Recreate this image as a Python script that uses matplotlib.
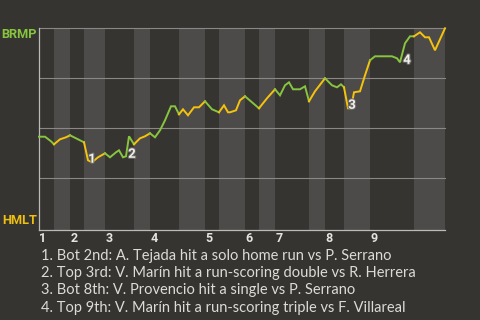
import matplotlib.pyplot as plt
import matplotlib.patheffects as pe

plt.rcParams['font.family'] = ['Lato', 'DejaVu Sans']

bg = '#363430'
band = '#4d4b49'
green = '#88c53f'
yellow = '#f6c30c'
txt = '#dddbd7'

# game progress (plays along the x axis) and BRMP win probability
prog = [0, 6, 12, 15, 21, 27, 31, 37, 45, 49, 53, 59, 66,
        71, 77, 80, 84, 87, 90, 95, 101, 106, 111,
        116, 121, 126, 132, 136, 140, 144, 149, 155, 160, 166,
        173, 180, 185, 189, 191, 197, 201, 206, 213, 220, 228, 236,
        241, 246, 250, 254, 261, 266, 270, 276, 286,
        293, 298, 302, 305, 309, 312, 315, 321, 326, 331,
        336, 353, 358, 361, 366, 371, 375, 381, 386, 390, 396, 406]
winprob = [0.458, 0.458, 0.435, 0.42, 0.445, 0.455, 0.465, 0.45, 0.43, 0.34, 0.33, 0.355, 0.375,
           0.355, 0.38, 0.39, 0.355, 0.36, 0.46, 0.42, 0.45, 0.46, 0.475,
           0.455, 0.49, 0.54, 0.61, 0.61, 0.57, 0.595, 0.565, 0.605, 0.605, 0.635,
           0.595, 0.58, 0.615, 0.58, 0.58, 0.59, 0.64, 0.66, 0.63, 0.60, 0.65, 0.695,
           0.665, 0.715, 0.73, 0.695, 0.695, 0.71, 0.635, 0.685, 0.75,
           0.715, 0.705, 0.72, 0.705, 0.60, 0.60, 0.68, 0.685, 0.765, 0.84,
           0.86, 0.86, 0.85, 0.83, 0.925, 0.96, 0.96, 0.98, 0.955, 0.955, 0.89, 1.0]

# start of each half inning
halves = [0, 15, 31, 45, 66, 95, 111, 140, 166, 180, 206, 220, 236, 270, 286, 305, 331, 375, 406]
innings = ['1', '2', '3', '4', '5', '6', '7', '8', '9']

# key plays
key_x = [53, 93, 313, 368]
key_y = [0.345, 0.37, 0.615, 0.84]
key_text = [
    '1. Bot 2nd: A. Tejada hit a solo home run vs P. Serrano',
    '2. Top 3rd: V. Marín hit a run-scoring double vs R. Herrera',
    '3. Bot 8th: V. Provencio hit a single vs P. Serrano',
    '4. Top 9th: V. Marín hit a run-scoring triple vs F. Villareal',
]

bold = ['Roboto', 'DejaVu Sans']

fig = plt.figure(figsize=(4.8, 3.2), dpi=100, facecolor=bg)
ax = fig.add_axes([39/480, 1 - 230.3/320, 406/480, 202/320])
ax.set_facecolor(bg)
ax.set_xlim(0, 406)
ax.set_ylim(-0.01, 1.0)

for i in range(len(halves) - 1):
    if i % 2 == 1:
        ax.axvspan(halves[i], halves[i+1], color=band, lw=0, zorder=0)

for g in [0.25, 0.5, 0.75, 1.0]:
    ax.axhline(g, color='#8a8885', lw=0.8, zorder=1, clip_on=False)

for i in range(len(halves) - 1):
    a, b = halves[i], halves[i+1]
    xs = [x for x in prog if a <= x <= b]
    ys = [winprob[j] for j, x in enumerate(prog) if a <= x <= b]
    ax.plot(xs, ys, color=green if i % 2 == 0 else yellow, lw=1.4,
            solid_joinstyle='miter', zorder=3, clip_on=False)

for x, y, t in zip(key_x, key_y, ['1', '2', '3', '4']):
    ax.text(x, y, t, color='#f2f0ed', fontsize=9.5, fontweight='bold', family=bold,
            ha='center', va='center', zorder=4,
            path_effects=[pe.withStroke(linewidth=1.5, foreground='#6a6865')])

for s in ['top', 'right']:
    ax.spines[s].set_visible(False)
for s in ['left', 'bottom']:
    ax.spines[s].set_color('#bdbbb7')
    ax.spines[s].set_linewidth(0.9)
ax.set_xticks([])
ax.set_yticks([])

for k, lab in enumerate(innings):
    ax.text(halves[2*k] + 4, -0.02, lab, color='#e6e4e0', fontsize=9,
            fontweight='bold', family=bold, ha='center', va='top')

fig.text(37/480, 1 - 34/320, 'BRMP', color=green, fontsize=9.2, fontweight='bold',
         family=bold, ha='right', va='center')
fig.text(37/480, 1 - 220/320, 'HMLT', color='#f0c010', fontsize=9.2, fontweight='bold',
         family=bold, ha='right', va='center')

for k, line in enumerate(key_text):
    fig.text(41/480, 1 - (256 + 17.2*k)/320, line, color=txt, fontsize=10.55,
             ha='left', va='center')

fig.savefig('out.png', dpi=100, facecolor=bg)
